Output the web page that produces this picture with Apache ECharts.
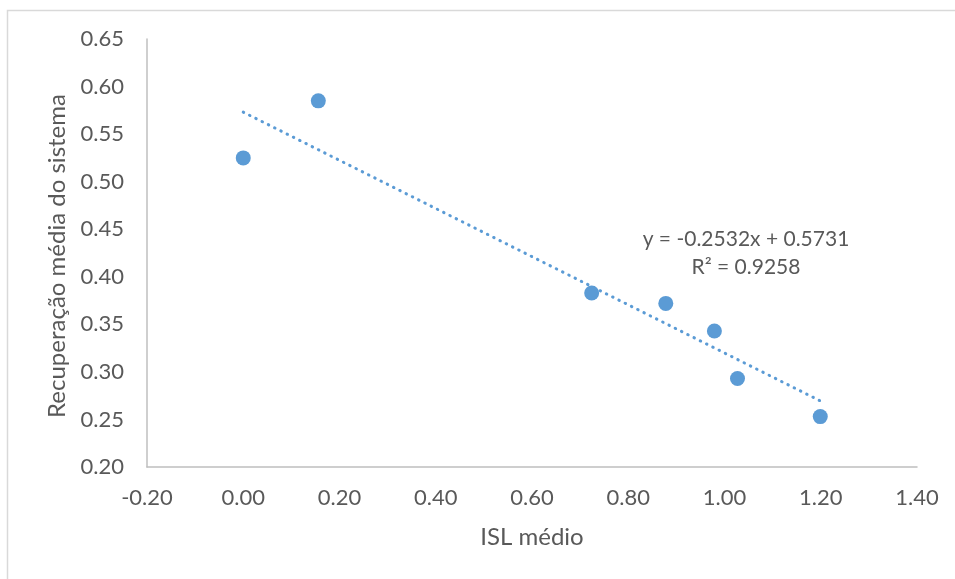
<!DOCTYPE html>
<html>
<head>
<meta charset="utf-8">
<script src="https://cdn.jsdelivr.net/npm/echarts@6/dist/echarts.min.js"></script>
<style>
  html, body { margin: 0; padding: 0; background: #fff; }
  #chart { width: 955px; height: 579px; }
</style>
</head>
<body>
<div id="chart"></div>
<script>
// Mean ISL vs. mean system recovery
const islMedio = [0.00, 0.156, 0.724, 0.878, 0.979, 1.027, 1.199];
const recuperacao = [0.525, 0.585, 0.383, 0.372, 0.343, 0.293, 0.253];

// Linear trendline: y = slope * x + intercept, drawn over the data range
const trendCoef = [-0.2532, 0.5731];   // slope, intercept
const trendRange = [0.00, 1.20];
const rSquared = 0.9258;

const xTicks = { min: -0.2, max: 1.4, interval: 0.2 };
const yTicks = { min: 0.2, max: 0.65, interval: 0.05 };

const blue = '#5B9BD5';
const axisGray = '#BFBFBF';
const textGray = '#595959';
const font = 'Lato, "Open Sans", sans-serif';

const points = islMedio.map((x, i) => [x, recuperacao[i]]);
const trendPts = trendRange.map(x => [x, trendCoef[0] * x + trendCoef[1]]);

const chart = echarts.init(document.getElementById('chart'), null, { renderer: 'canvas' });

chart.setOption({
  animation: false,
  backgroundColor: '#fff',
  textStyle: { fontFamily: font },
  grid: { left: 147, right: 38, top: 39, bottom: 112 },
  xAxis: {
    type: 'value',
    min: xTicks.min, max: xTicks.max, interval: xTicks.interval,
    name: 'ISL médio',
    nameLocation: 'middle',
    nameGap: 58,
    nameTextStyle: { color: textGray, fontSize: 24, fontFamily: font },
    axisLine: { show: true, onZero: false, lineStyle: { color: axisGray, width: 1.5 } },
    axisTick: { show: false },
    splitLine: { show: false },
    axisLabel: {
      color: textGray, fontSize: 22, fontFamily: font, margin: 20,
      formatter: v => v.toFixed(2)
    }
  },
  yAxis: {
    type: 'value',
    min: yTicks.min, max: yTicks.max, interval: yTicks.interval,
    axisLine: { show: true, onZero: false, lineStyle: { color: axisGray, width: 1.5 } },
    axisTick: { show: false },
    splitLine: { show: false },
    axisLabel: {
      color: textGray, fontSize: 22, fontFamily: font, margin: 23,
      formatter: v => v.toFixed(2)
    }
  },
  series: [
    {
      type: 'line',
      data: trendPts,
      symbol: 'none',
      silent: true,
      lineStyle: { color: blue, width: 3, type: [0.5, 6.5], cap: 'round' },
      z: 2
    },
    {
      type: 'scatter',
      data: points,
      symbol: 'circle',
      symbolSize: 15,
      itemStyle: { color: blue, opacity: 1 },
      z: 3
    }
  ],
  graphic: [
    {
      type: 'polyline',
      shape: { points: [[7.5, 600], [7.5, 10.5], [960, 10.5]] },
      style: { stroke: '#D9D9D9', lineWidth: 1.5, fill: null },
      silent: true
    },
    {
      type: 'text',
      x: 57, y: 256,
      rotation: Math.PI / 2,
      style: {
        text: 'Recuperação média do sistema',
        fill: textGray, fontSize: 24, fontFamily: font,
        align: 'center', verticalAlign: 'middle'
      }
    },
    {
      type: 'text',
      x: 746, y: 239,
      style: {
        text: 'y = ' + trendCoef[0].toFixed(4) + 'x + ' + trendCoef[1].toFixed(4),
        fill: textGray, fontSize: 21, fontFamily: font,
        align: 'center', verticalAlign: 'middle'
      }
    },
    {
      type: 'text',
      x: 746, y: 267,
      style: {
        text: 'R² = ' + rSquared.toFixed(4),
        fill: textGray, fontSize: 21, fontFamily: font,
        align: 'center', verticalAlign: 'middle'
      }
    }
  ]
});
</script>
</body>
</html>
